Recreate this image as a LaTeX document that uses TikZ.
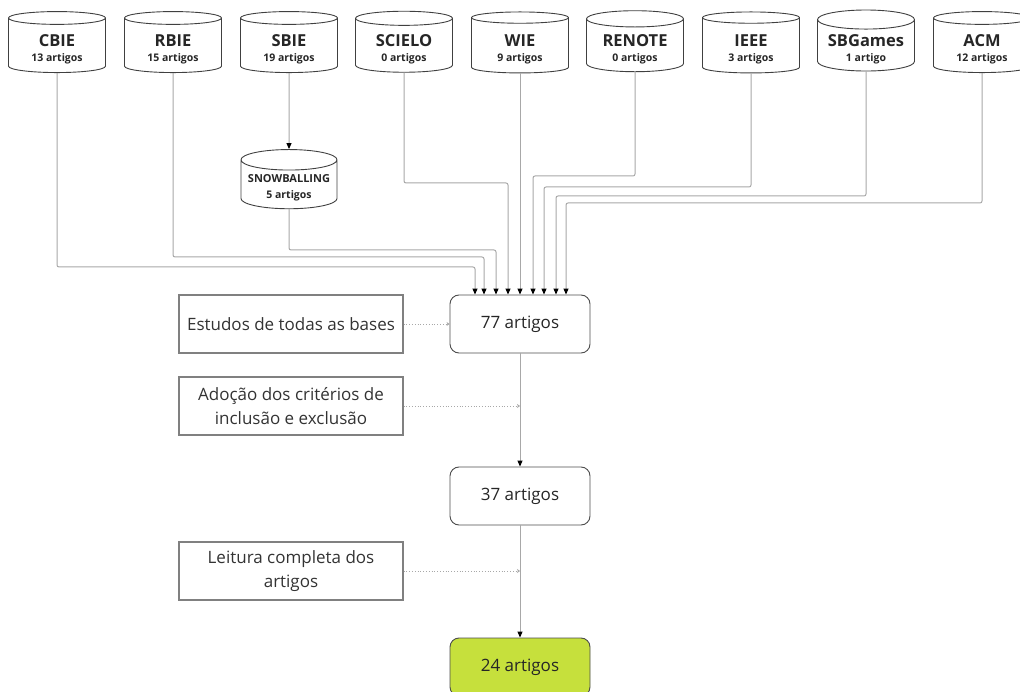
\documentclass[tikz,border=0pt]{standalone}
\usepackage{fontspec}
\setmainfont{Open Sans}
\usetikzlibrary{shapes.geometric,arrows.meta}

\definecolor{linegray}{HTML}{A8A8A8}
\definecolor{boxgray}{HTML}{808080}
\definecolor{finalgreen}{HTML}{C6E03C}

% name and count inside a base cylinder
\newcommand{\baselabel}[2]{\raisebox{-4.5pt}[\height][\depth]{\begin{tabular}{@{}c@{}}{\fontsize{16.5}{20}\selectfont\bfseries #1}\\[3pt]{\fontsize{10.5}{12}\selectfont\bfseries #2}\end{tabular}}}

\begin{document}
\begin{tikzpicture}[
        x=1pt, y=-1pt,
        base_style/.style={cylinder, shape border rotate=90, aspect=0.25, draw=black!75, line width=0.9pt,
            minimum width=97pt, minimum height=61pt, inner sep=0pt, text=black!85},
        snow_style/.style={base_style, minimum width=96pt, minimum height=57pt},
        count_style/.style={rectangle, rounded corners=9pt, draw=black!70, line width=0.9pt,
            minimum width=140pt, minimum height=58pt, font=\fontsize{17}{20}\selectfont, text=black!85},
        stage_style/.style={rectangle, draw=boxgray, line width=1.1pt, minimum width=224pt, minimum height=58pt,
            align=center, font=\fontsize{17}{24}\selectfont, text=black!80},
        link_style/.style={draw=linegray, line width=1pt, rounded corners=2pt, -{Triangle[length=6pt, width=5pt, black]}},
        note_style/.style={draw=linegray, line width=0.8pt, dotted, -{Stealth[length=3pt, width=4pt, linegray]}}
    ]
        \clip (0,0) rectangle (1020,692);

        % Bases
        \node[base_style] (cbie) at (57,45.5) {\baselabel{CBIE}{13 artigos}};
        \node[base_style] (rbie) at (173,45.5) {\baselabel{RBIE}{15 artigos}};
        \node[base_style] (sbie) at (289,45.5) {\baselabel{SBIE}{19 artigos}};
        \node[base_style] (scielo) at (404,45.5) {\baselabel{SCIELO}{0 artigos}};
        \node[base_style] (wie) at (520,45.5) {\baselabel{WIE}{9 artigos}};
        \node[base_style] (renote) at (635,45.5) {\baselabel{RENOTE}{0 artigos}};
        \node[base_style] (ieee) at (751,45.5) {\baselabel{IEEE}{3 artigos}};
        \node[base_style] (sbgames) at (866,45.5) {\baselabel{SBGames}{1 artigo}};
        \node[base_style] (acm) at (982,45.5) {\baselabel{ACM}{12 artigos}};
        \node[snow_style] (snow) at (289,184.5) {\raisebox{-4pt}[\height][\depth]{\begin{tabular}{@{}c@{}}{\fontsize{11}{13}\selectfont\bfseries SNOWBALLING}\\[4pt]{\fontsize{10.5}{12}\selectfont\bfseries 5 artigos}\end{tabular}}};

        % Stages
        \node[count_style] (n77) at (520,324) {77 artigos};
        \node[count_style] (n37) at (520,496) {37 artigos};
        \node[count_style, fill=finalgreen] (n24) at (520,667) {24 artigos};
        \node[stage_style] (todas) at (291,324) {Estudos de todas as bases};
        \node[stage_style] (criterios) at (291,406) {Adoção dos critérios de\\inclusão e exclusão};
        \node[stage_style] (leitura) at (291,571) {Leitura completa dos\\artigos};

        % Bends
        \coordinate (cbie_bend) at (475,267);
        \coordinate (rbie_bend) at (484,257);
        \coordinate (snow_bend) at (496,250);
        \coordinate (scielo_bend) at (508,183);
        \coordinate (renote_bend) at (533,176);
        \coordinate (ieee_bend) at (544,187);
        \coordinate (sbgames_bend) at (556,196);
        \coordinate (acm_bend) at (566,203);

        % Links into 77 artigos
        \draw[link_style] (sbie.south) -- (snow.north);
        \draw[link_style] (cbie.south) |- (cbie_bend) -- (cbie_bend |- n77.north);
        \draw[link_style] (rbie.south) |- (rbie_bend) -- (rbie_bend |- n77.north);
        \draw[link_style] (snow.south) |- (snow_bend) -- (snow_bend |- n77.north);
        \draw[link_style] (scielo.south) |- (scielo_bend) -- (scielo_bend |- n77.north);
        \draw[link_style] (wie.south) -- (n77.north);
        \draw[link_style] (renote.south) |- (renote_bend) -- (renote_bend |- n77.north);
        \draw[link_style] (ieee.south) |- (ieee_bend) -- (ieee_bend |- n77.north);
        \draw[link_style] (sbgames.south) |- (sbgames_bend) -- (sbgames_bend |- n77.north);
        \draw[link_style] (acm.south) |- (acm_bend) -- (acm_bend |- n77.north);

        % Flow
        \draw[link_style] (n77.south) -- (n37.north);
        \draw[link_style] (n37.south) -- (n24.north);
        \draw[note_style] (todas.east) -- (n77.west);
        \draw[note_style] (criterios.east) -- (criterios.east -| n77.south);
        \draw[note_style] (leitura.east) -- (leitura.east -| n37.south);
    \end{tikzpicture}
\end{document}
